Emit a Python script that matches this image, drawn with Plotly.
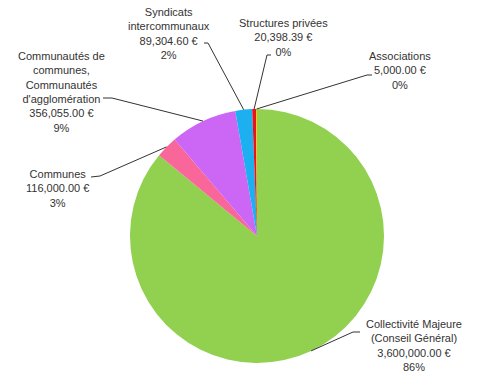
import math
import plotly.graph_objects as go

W, H = 477, 373

labels = ["Collectivité Majeure<br>(Conseil Général)", "Communes",
          "Communautés de<br>communes,<br>Communautés<br>d'agglomération",
          "Syndicats<br>intercommunaux", "Structures privées", "Associations"]
values = [3600000.00, 116000.00, 356055.00, 89304.60, 20398.39, 5000.00]
value_text = ["3,600,000.00 €", "116,000.00 €", "356,055.00 €", "89,304.60 €", "20,398.39 €", "5,000.00 €"]
colors = ["#92D050", "#F8669A", "#CC66F5", "#1CB0F0", "#E8141A", "#FFC000"]

# label layout (pixels): text centre, elbow point, line end near text
text_pos = [(414, 345), (57, 188), (62, 92), (169, 33), (283, 38), (400, 70)]
elbows = [((353, 332), (360, 332)), ((100, 176), (91, 177)), ((112, 98), (103, 98)),
          ((208, 43), (204, 43)), ((267, 55), (271, 55)), ((367, 75), (372, 75))]

# pie domain in pixels
left, right, top, bottom = 130, 384, 109, 363
cx, cy = (left + right) / 2, (top + bottom) / 2
r = (right - left) / 2

fig = go.Figure(go.Pie(
    values=values, labels=[l.replace("<br>", " ") for l in labels],
    sort=False, direction="clockwise", rotation=0,
    marker=dict(colors=colors, line=dict(width=0)),
    textinfo="none", showlegend=False, hoverinfo="label+value+percent",
    domain=dict(x=[left / W, right / W], y=[1 - bottom / H, 1 - top / H]),
))

def px2paper(p):
    return p[0] / W, 1 - p[1] / H

total = sum(values)
cum = 0
shapes, annotations = [], []
for i, v in enumerate(values):
    mid = (cum + v / 2) / total
    cum += v
    ang = 2 * math.pi * mid
    start = (cx + r * math.sin(ang), cy - r * math.cos(ang))
    pts = [start, elbows[i][0], elbows[i][1]]
    for a, b in zip(pts[:-1], pts[1:]):
        xa, ya = px2paper(a)
        xb, yb = px2paper(b)
        shapes.append(dict(type="line", xref="paper", yref="paper", x0=xa, y0=ya, x1=xb, y1=yb,
                           line=dict(color="#333333", width=1)))
    pct = f"{round(v / total * 100):d}%"
    tx, ty = px2paper(text_pos[i])
    annotations.append(dict(xref="paper", yref="paper", x=tx, y=ty, xanchor="center", yanchor="middle",
                            text=f"{labels[i]}<br>{value_text[i]}<br>{pct}", showarrow=False,
                            align="center", font=dict(family="Liberation Sans, Arial", size=11, color="#333333")))

fig.update_layout(width=W, height=H, margin=dict(l=0, r=0, t=0, b=0),
                  paper_bgcolor="white", plot_bgcolor="white",
                  shapes=shapes, annotations=annotations)
fig.write_html("out.html", config={"displayModeBar": False},
               post_script="document.body.style.margin='0px';")
